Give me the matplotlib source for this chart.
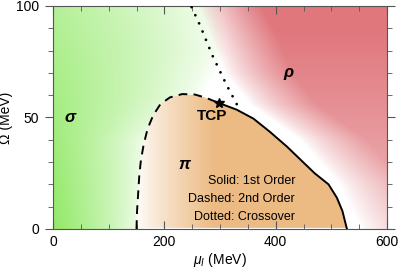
import numpy as np
import matplotlib
matplotlib.use("Agg")
import matplotlib.pyplot as plt
from matplotlib.path import Path

plt.rcParams["font.family"] = ["Liberation Sans", "DejaVu Sans"]
plt.rcParams["mathtext.fontset"] = "custom"
plt.rcParams["mathtext.rm"] = "Liberation Sans"
plt.rcParams["mathtext.it"] = "Liberation Sans:italic"

###########################################################################
# Phase boundaries (mu_I in MeV, Omega in MeV)
###########################################################################

dashed_mu = [150, 151, 153, 155, 158, 163, 170, 180, 193, 210, 232, 255, 275, 298]
dashed_om = [0, 8, 16, 24, 31, 38, 45, 51, 56, 59, 60.5, 60.3, 58.8, 56.5]

solid_mu = [298, 330, 360, 390, 420, 445, 470, 495, 510, 520, 528]
solid_om = [56.5, 53.5, 49.5, 43.5, 37, 31, 25, 20, 14, 8, 0]

dotted_mu = [330, 311, 286, 264, 248]
dotted_om = [56, 65, 78, 91.4, 100]

tcp = (298, 56.5)

phase_labels = ["σ", "π", "ρ"]
phase_pos = [(30, 50), (236, 29), (423, 70)]

legend_lines = ["Solid: 1st Order", "Dashed: 2nd Order", "Dotted: Crossover"]
legend_om = [21.6, 13.5, 5.4]

###########################################################################
# Background shading (rough look of the smooth colour fields)
###########################################################################

mu = np.linspace(0, 600, 601)
om = np.linspace(0, 100, 201)
M, O = np.meshgrid(mu, om)

poly = list(zip(dashed_mu, dashed_om)) + list(zip(solid_mu[1:], solid_om[1:]))
pi_path = Path(poly + [(dashed_mu[0], 0)])
inside_pi = pi_path.contains_points(np.c_[M.ravel(), O.ravel()]).reshape(M.shape)

# where the green fades out / the red starts, as smooth curves in Omega
sig_L = np.interp(O, [0, 40, 60, 80, 100], [165, 180, 270, 310, 300])
rho_b = np.interp(O, [0, 20, 40, 56, 70, 100], [555, 515, 445, 355, 310, 262])

green = np.array([140, 232, 95]) / 255
orange = np.array([232, 172, 105]) / 255
red = np.array([222, 112, 118]) / 255

a_sig = np.clip(1 - M / sig_L, 0, 1) ** 0.75 * (0.95 - 0.3 * O / 100)
a_pi = 0.82 * np.clip((M - 150) / 140, 0, 1) ** 0.8
a_rho = np.clip((M - rho_b) / 120, 0, 1) ** 0.8 * (0.5 + 0.5 * O / 100)
a_rho = np.clip(a_rho, 0, 0.95)

img = np.ones(M.shape + (3,))
for c in range(3):
    ch = 1 - a_sig * (1 - green[c])
    ch = ch - a_rho * (1 - red[c])
    ch = np.where(inside_pi, 1 - a_pi * (1 - orange[c]), ch)
    img[..., c] = np.clip(ch, 0, 1)

###########################################################################
# Plot
###########################################################################

fig = plt.figure(figsize=(4, 2.75), dpi=100)
ax = fig.add_axes([0.1325, 0.1673, 0.835, 0.8109])

ax.imshow(img, origin="lower", extent=[0, 600, 0, 100], aspect="auto",
          interpolation="bilinear", zorder=0)

ax.plot(dashed_mu, dashed_om, color="black", lw=1.4, dashes=(4.5, 3.2), zorder=3)
ax.plot(solid_mu, solid_om, color="black", lw=1.4, zorder=3)
ax.plot(dotted_mu, dotted_om, color="black", lw=2.0,
        linestyle=(0, (0.01, 3.2)), dash_capstyle="round", zorder=3)
ax.plot(*tcp, marker="*", color="black", ms=7, zorder=4)

for lab, (x, y) in zip(phase_labels, phase_pos):
    ax.text(x, y, lab, fontsize=12, fontweight="bold", fontstyle="italic",
            ha="center", va="center")
ax.text(286, 50.5, "TCP", fontsize=11, fontweight="bold", ha="center", va="center")

for t, y in zip(legend_lines, legend_om):
    ax.text(435, y, t, fontsize=9, ha="right", va="center")

ax.set_xlim(0, 600)
ax.set_ylim(0, 100)
ax.set_xticks([0, 200, 400, 600])
ax.set_xticks(np.arange(0, 601, 50), minor=True)
ax.set_yticks([0, 50, 100])
ax.set_yticks(np.arange(0, 101, 10), minor=True)

ax.tick_params(which="both", top=True, right=True, direction="in",
               color="#555555", labelsize=10, pad=4)
ax.tick_params(which="major", length=6, width=0.8)
ax.tick_params(which="minor", length=3.5, width=0.6)
ax.tick_params(axis="y", which="both", left=True, direction="out")
for s in ax.spines.values():
    s.set_color("#555555")
    s.set_linewidth(0.8)

ax.set_xlabel(r"$\mu_I$ (MeV)", fontsize=10, labelpad=2)
ax.set_ylabel("Ω (MeV)", fontsize=10, labelpad=2)

fig.savefig("out.png", dpi=100)
